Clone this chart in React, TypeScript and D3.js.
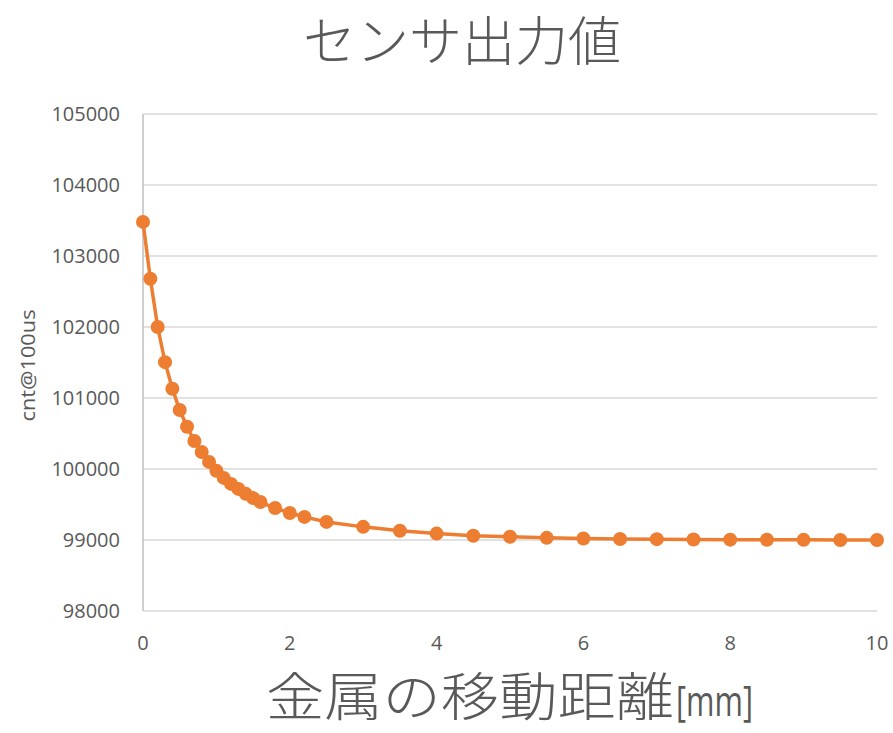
import * as d3 from "d3";

const distances = [
  0, 0.1, 0.2, 0.3, 0.4, 0.5, 0.6, 0.7, 0.8, 0.9, 1.0, 1.1, 1.2, 1.3, 1.4, 1.5, 1.6,
  1.8, 2.0, 2.2, 2.5, 3, 3.5, 4, 4.5, 5, 5.5, 6, 6.5, 7, 7.5, 8, 8.5, 9, 9.5, 10,
];
const counts = [
  103480, 102680, 102000, 101505, 101130, 100830, 100595, 100395, 100240, 100100,
  99975, 99875, 99790, 99720, 99650, 99590, 99535, 99450, 99380, 99325, 99255,
  99185, 99130, 99090, 99060, 99045, 99030, 99022, 99015, 99012, 99008, 99005,
  99003, 99002, 99001, 99000,
];
const xTicks = [0, 2, 4, 6, 8, 10];
const yTicks = [98000, 99000, 100000, 101000, 102000, 103000, 104000, 105000];

const title = "センサ出力値";
const xTitle = "金属の移動距離";
const xUnit = "[mm]";
const yTitle = "cnt@100us";

const W = 893;
const H = 733;
const left = 143;
const right = 877;
const top = 114;
const bottom = 611;
const orange = "#ED7D31";
const gray = "#595959";
const cjk = "'Noto Sans CJK JP', sans-serif";
const latin = "'Open Sans', sans-serif";

export default function App() {
  const x = d3.scaleLinear().domain([0, 10]).range([left, right]);
  const y = d3.scaleLinear().domain([98000, 105000]).range([bottom, top]);
  const pts = distances.map((d, i) => [d, counts[i]] as [number, number]);
  const line = d3.line<[number, number]>().x(d => x(d[0])).y(d => y(d[1]));

  return (
    <svg width={W} height={H} style={{ position: "absolute", left: 0, top: 0, background: "#fff" }}>
      <rect width={W} height={H} fill="#fff" />
      <text x={462} y={61} textAnchor="middle" fontFamily={cjk} fontWeight={300} fontSize={53} fill={gray}>{title}</text>
      {yTicks.map(t => (
        <g key={t}>
          {t !== 98000 && <line x1={left} x2={right} y1={y(t)} y2={y(t)} stroke="#d9d9d9" strokeWidth={1.5} />}
          <text x={120} y={y(t)} dy="0.35em" textAnchor="end" fontFamily={latin} fontSize={20} fill={gray}>{t}</text>
        </g>
      ))}
      <line x1={left} x2={left} y1={top} y2={bottom} stroke="#bfbfbf" strokeWidth={1.5} />
      <line x1={left} x2={right} y1={bottom} y2={bottom} stroke="#d9d9d9" strokeWidth={1.5} />
      {xTicks.map(t => (
        <text key={t} x={x(t)} y={650} textAnchor="middle" fontFamily={latin} fontSize={20} fill={gray}>{t}</text>
      ))}
      <text transform={`translate(35,${(top + bottom) / 2 + 3}) rotate(-90)`} textAnchor="middle" fontFamily={latin} fontSize={20} textLength={112} lengthAdjust="spacingAndGlyphs" fill={gray}>{yTitle}</text>
      <text x={266} y={716} fontFamily={cjk} fontWeight={300} fontSize={52} textLength={408} lengthAdjust="spacingAndGlyphs" fill={gray}>{xTitle}</text>
      <text x={676} y={716} fontFamily={latin} fontSize={42} textLength={77} lengthAdjust="spacingAndGlyphs" fill={gray}>{xUnit}</text>
      <path d={line(pts) ?? ""} fill="none" stroke={orange} strokeWidth={3.5} strokeLinejoin="round" />
      {pts.map((p, i) => (
        <circle key={i} cx={x(p[0])} cy={y(p[1])} r={7} fill={orange} />
      ))}
    </svg>
  );
}
